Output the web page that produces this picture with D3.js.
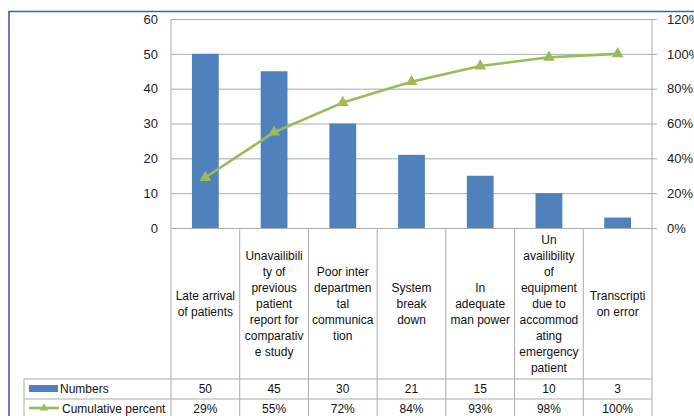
<!DOCTYPE html>
<html lang="en">
  <head>
    <meta charset="UTF-8" />
    <title>Pareto chart</title>
    <script src="https://cdn.jsdelivr.net/npm/d3@7"></script>
    <style>
      html, body { margin: 0; padding: 0; background: #fff; }
      svg { display: block; font-family: 'Liberation Sans', Arial, sans-serif; }
    </style>
  </head>
  <body>
    <div id="chart"></div>
    <script>
      // category labels, wrapped the way the source table shows them
      const categories = [
        ['Late arrival', 'of patients'],
        ['Unavailibili', 'ty of', 'previous', 'patient', 'report for', 'comparativ', 'e study'],
        ['Poor inter', 'departmen', 'tal', 'communica', 'tion'],
        ['System', 'break', 'down'],
        ['In', 'adequate', 'man power'],
        ['Un', 'availibility', 'of', 'equipment', 'due to', 'accommod', 'ating', 'emergency', 'patient'],
        ['Transcripti', 'on error']
      ]
      const numbers = [50, 45, 30, 21, 15, 10, 3]
      const cumulative = [29, 55, 72, 84, 93, 98, 100]
      const leftTicks = [0, 10, 20, 30, 40, 50, 60]
      const rightTicks = [0, 20, 40, 60, 80, 100, 120]
      const seriesNames = ['Numbers', 'Cumulative percent']

      const W = 694, H = 416
      const plotL = 171, plotR = 652, plotT = 19, plotB = 228
      const headB = 379, rowH = 20, tableL = 24
      const blue = '#4f81bd', green = '#9bbb59', grid = '#ababab'

      const svg = d3.select('#chart').append('svg')
        .attr('width', W).attr('height', H)

      // outer frame
      svg.append('path')
        .attr('d', `M9,${H + 2}V11.5H${W + 2}`)
        .attr('fill', 'none').attr('stroke', '#3f5fb3').attr('stroke-width', 1.6)

      const x = d3.scaleBand().domain(d3.range(categories.length))
        .range([plotL, plotR]).paddingInner(0).paddingOuter(0)
      const y = d3.scaleLinear().domain([0, 60]).range([plotB, plotT])
      const y2 = d3.scaleLinear().domain([0, 120]).range([plotB, plotT])

      // left axis with gridlines
      const gl = svg.append('g').attr('transform', `translate(${plotL},0)`)
        .call(d3.axisLeft(y).tickValues(leftTicks)
          .tickSizeInner(-(plotR - plotL)).tickSizeOuter(0).tickPadding(13))
      gl.select('.domain').remove()
      gl.selectAll('line').attr('stroke', grid)
      gl.selectAll('text').attr('font-size', 13).attr('fill', '#222')
        .attr('font-family', "'Liberation Sans', Arial, sans-serif")

      // right axis
      const gr = svg.append('g').attr('transform', `translate(${plotR},0)`)
        .call(d3.axisRight(y2).tickValues(rightTicks)
          .tickSize(5).tickPadding(10).tickFormat(d => d + '%'))
      gr.select('.domain').remove()
      gr.selectAll('line').attr('stroke', grid)
      gr.selectAll('text').attr('font-size', 13).attr('fill', '#222')
        .attr('font-family', "'Liberation Sans', Arial, sans-serif")

      // table lines
      const tl = svg.append('g').attr('stroke', grid).attr('stroke-width', 1).attr('fill', 'none')
      tl.append('line').attr('x1', plotL).attr('x2', plotL).attr('y1', plotT).attr('y2', H)
      tl.append('line').attr('x1', plotR).attr('x2', plotR).attr('y1', plotT).attr('y2', H)
      tl.selectAll('.vcol').data(d3.range(1, categories.length)).join('line')
        .attr('x1', i => x(i)).attr('x2', i => x(i))
        .attr('y1', plotB).attr('y2', H)
      tl.append('line').attr('x1', tableL).attr('x2', tableL).attr('y1', headB).attr('y2', H)
      tl.selectAll('.hrow').data([headB, headB + rowH]).join('line')
        .attr('x1', tableL).attr('x2', plotR).attr('y1', d => d).attr('y2', d => d)

      // bars
      const barW = x.bandwidth() * 0.39
      svg.append('g').selectAll('rect').data(numbers).join('rect')
        .attr('x', (d, i) => x(i) + (x.bandwidth() - barW) / 2)
        .attr('y', d => y(d))
        .attr('width', barW)
        .attr('height', d => plotB - y(d))
        .attr('fill', blue)

      // cumulative line
      const cx = i => x(i) + x.bandwidth() / 2
      const line = d3.line().x((d, i) => cx(i)).y(d => y2(d))
      svg.append('path').datum(cumulative)
        .attr('d', line).attr('fill', 'none')
        .attr('stroke', green).attr('stroke-width', 2.6).attr('stroke-linejoin', 'round')
      const tri = d3.symbol().type(d3.symbolTriangle).size(60)
      svg.append('g').selectAll('path').data(cumulative).join('path')
        .attr('transform', (d, i) => `translate(${cx(i)},${y2(d)})`)
        .attr('d', tri).attr('fill', green)

      // category header text
      const lh = 16, midHead = (plotB + headB) / 2
      svg.append('g').selectAll('text').data(categories).join('text')
        .attr('text-anchor', 'middle').attr('font-size', 12).attr('fill', '#111')
        .each(function (lines, i) {
          const t = d3.select(this)
          const y0 = midHead - ((lines.length - 1) * lh) / 2
          lines.forEach((s, k) => {
            t.append('tspan').attr('x', cx(i)).attr('y', y0 + k * lh)
              .attr('dy', '0.35em').text(s)
          })
        })

      // data rows
      const rows = [numbers.map(String), cumulative.map(d => d + '%')]
      rows.forEach((vals, r) => {
        const ym = headB + rowH * r + rowH / 2
        svg.append('g').selectAll('text').data(vals).join('text')
          .attr('x', (d, i) => cx(i)).attr('y', ym).attr('dy', '0.35em')
          .attr('text-anchor', 'middle').attr('font-size', 12).attr('fill', '#111')
          .text(d => d)
        svg.append('text').attr('x', r ? 62 : 60).attr('y', ym).attr('dy', '0.35em')
          .attr('font-size', 12).attr('fill', '#111').text(seriesNames[r])
      })

      // legend keys
      svg.append('rect').attr('x', 29).attr('y', headB + 6).attr('width', 29).attr('height', 7)
        .attr('fill', blue)
      const ly = headB + rowH + 9
      svg.append('line').attr('x1', 29).attr('x2', 59).attr('y1', ly).attr('y2', ly)
        .attr('stroke', green).attr('stroke-width', 2.6)
      svg.append('path').attr('transform', `translate(44,${ly})`)
        .attr('d', d3.symbol().type(d3.symbolTriangle).size(30)).attr('fill', green)
    </script>
  </body>
</html>
